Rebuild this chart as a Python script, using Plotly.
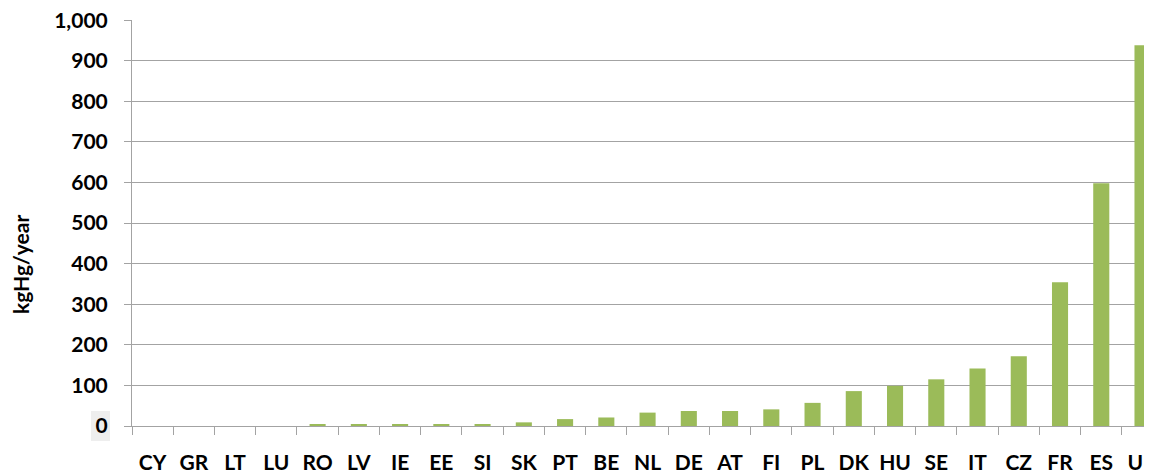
import plotly.graph_objects as go

countries = ["CY", "GR", "LT", "LU", "RO", "LV", "IE", "EE", "SI", "SK", "PT", "BE", "NL",
             "DE", "AT", "FI", "PL", "DK", "HU", "SE", "IT", "CZ", "FR", "ES", "UK"]
emissions = [0, 0, 0, 0, 4, 4, 4, 4, 4, 9, 17, 21, 33,
             37, 37, 41, 57, 86, 99, 115, 142, 172, 354, 598, 938]
y_ticks = [0, 100, 200, 300, 400, 500, 600, 700, 800, 900, 1000]

FONT = "Lato"
GREY = "#A3A3A3"

fig = go.Figure(go.Bar(
    x=countries, y=emissions,
    marker=dict(color="#9BBB59", line=dict(width=0)),
    width=0.39,
))

# page body adds an 8px offset, margins are set so the plot lands where the reference has it
fig.update_layout(
    width=1152, height=473,
    margin=dict(l=124, r=8, t=12, b=55),
    plot_bgcolor="white", paper_bgcolor="white",
    showlegend=False,
    font=dict(family=FONT, color="#000000"),
    shapes=[dict(
        type="rect", xref="paper", yref="paper", layer="below",
        x0=-0.0402, x1=-0.0216, y0=-0.037, y1=0.037,
        fillcolor="#EEEEEE", line=dict(width=0),
    )],
    annotations=[dict(
        text="<b>kgHg/year</b>", xref="paper", yref="paper",
        x=(20 - 132) / 1020, y=(426 - 265) / 406, textangle=-90,
        showarrow=False, font=dict(family=FONT, size=21, color="#000000"),
        xanchor="center", yanchor="middle",
    )],
)

fig.update_xaxes(
    range=[-0.5, 24.23], automargin=False, tickangle=0,
    ticklabeloverflow="allow",
    tickson="boundaries", ticks="outside", ticklen=8, tickcolor=GREY,
    showline=True, linecolor=GREY, linewidth=1,
    showgrid=False,
    tickfont=dict(family=FONT, size=21, color="#000000", weight="bold"),
    ticklabelstandoff=18,
)
fig.update_yaxes(
    range=[0, 1000.5], tickvals=y_ticks, tickformat=",d", automargin=False,
    ticklabeloverflow="allow",
    ticks="outside", ticklen=7, tickcolor=GREY,
    showline=True, linecolor=GREY, linewidth=1,
    showgrid=True, gridcolor=GREY, gridwidth=1,
    zeroline=False,
    tickfont=dict(family=FONT, size=21, color="#000000", weight="bold"),
    ticklabelstandoff=12,
)

fig.write_html("out.html")
